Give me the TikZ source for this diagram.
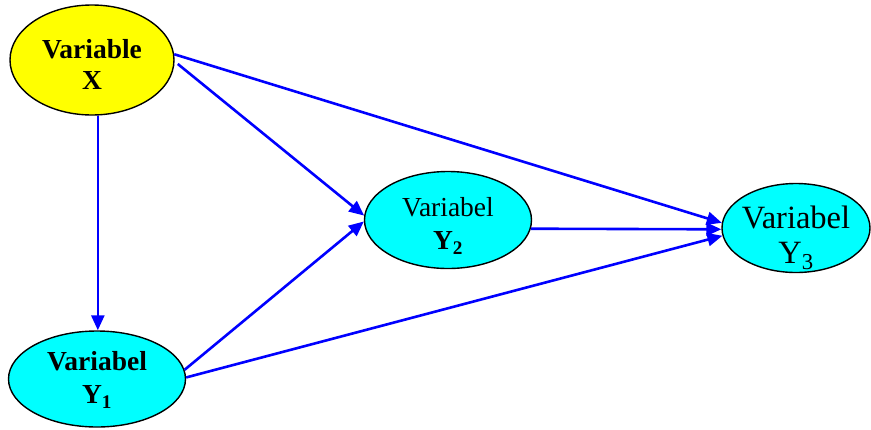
\documentclass[tikz,border=0pt]{standalone}
\usepackage{fontspec}
\setmainfont{Liberation Serif}
\usetikzlibrary{shapes.geometric,arrows.meta}
\begin{document}
\begin{tikzpicture}[x=1pt,y=-1pt,
  varbox/.style={ellipse,draw=black,line width=1.4pt,inner sep=0pt},
  vartext/.style={inner sep=0pt,align=center},
  conn/.style={draw={rgb,255:red,0;green,0;blue,255},line width=2.6pt,-{Triangle[length=15pt,width=13pt]}}]
\useasboundingbox (0,0) rectangle (871,429);
\node[varbox,fill={rgb,255:red,255;green,255;blue,0},minimum width=164pt,minimum height=110pt] (X) at (92,60) {};
\node[vartext,font=\fontsize{27.5}{31}\selectfont\bfseries] (Xt) at ([yshift=-4pt]X.center) {Variable\\X};
\node[varbox,fill={rgb,255:red,0;green,255;blue,255},minimum width=177pt,minimum height=96pt] (Y1) at (97,379) {};
\node[vartext,font=\fontsize{27.5}{33}\selectfont\bfseries] (Y1t) at ([yshift=-1pt]Y1.center) {Variabel\\Y\textsubscript{1}};
\node[varbox,fill={rgb,255:red,0;green,255;blue,255},minimum width=167pt,minimum height=97pt] (Y2) at (448,220) {};
\node[vartext,font=\fontsize{27.5}{33}\selectfont] (Y2t) at ([yshift=-6pt]Y2.center) {Variabel\\\textbf{Y\textsubscript{2}}};
\node[varbox,fill={rgb,255:red,0;green,255;blue,255},minimum width=148pt,minimum height=89pt] (Y3) at (796,228) {};
\node[vartext,font=\fontsize{32.5}{35}\selectfont] (Y3t) at ([yshift=-10pt]Y3.center) {Variabel\\Y\textsubscript{3}};
\draw[conn] (X.-84) -- (X.-84 |- Y1.north);
\draw[conn,shorten <=4pt] (X.-1) -- (Y2.177);
\draw[conn] (X.4) -- (Y3.176);
\draw[conn] (Y1.6) -- (Y2.181);
\draw[conn] (Y1.1) -- (Y3.186);
\draw[conn] (Y2.-6) -- (Y3.181);
\end{tikzpicture}
\end{document}
